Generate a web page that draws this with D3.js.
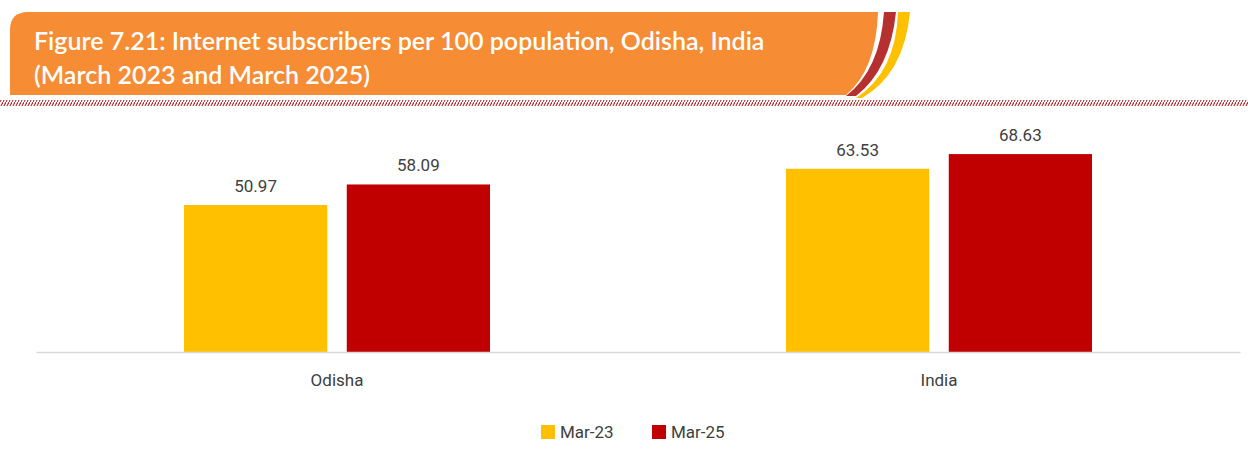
<!DOCTYPE html>
<html><head><meta charset="utf-8">
<script src="https://cdn.jsdelivr.net/npm/d3@7"></script>
<style>body{margin:0;background:#fff;font-family:Roboto,"Noto Sans",sans-serif}</style>
</head><body>
<svg id="chart" width="1248" height="454"></svg>
<script>
var categories = ["Odisha", "India"];
var seriesNames = ["Mar-23", "Mar-25"];
var mar23 = [50.97, 63.53];
var mar25 = [58.09, 68.63];
var colors = ["#FFC000", "#C00000"];

var svg = d3.select("#chart");

// header banner
var defs = svg.append("defs");
var pat = defs.append("pattern").attr("id", "hatch").attr("patternUnits", "userSpaceOnUse")
    .attr("width", 3).attr("height", 6);
pat.append("line").attr("x1", 0).attr("y1", 6).attr("x2", 3).attr("y2", 0)
    .attr("stroke", "#b5302f").attr("stroke-width", 1.2);
svg.append("rect").attr("x", 0).attr("y", 100).attr("width", 1248).attr("height", 6).attr("fill", "url(#hatch)");

svg.append("path").attr("d", "M884,12 L896,12 Q890,70 856,96 L846,96 Q880,70 884,12 Z").attr("fill", "#b5302f");
svg.append("path").attr("d", "M898,12 L910,12 Q904,74 862,98 L856,98 Q896,72 898,12 Z").attr("fill", "#FFC000");
svg.append("path").attr("d", "M28,12 L878,12 Q876,70 846,95 L10,95 L10,30 Q10,12 28,12 Z").attr("fill", "#F68C34");
svg.append("text").attr("x", 34).attr("y", 50).attr("fill", "#fff").attr("font-size", 25).attr("font-weight", 600)
    .attr("font-family", "Lato, sans-serif")
    .text("Figure 7.21: Internet subscribers per 100 population, Odisha, India");
svg.append("text").attr("x", 34).attr("y", 84).attr("fill", "#fff").attr("font-size", 25).attr("font-weight", 600)
    .attr("font-family", "Lato, sans-serif")
    .text("(March 2023 and March 2025)");

// chart
var x0 = d3.scaleBand().domain(categories).range([36, 1240]);
var x1 = d3.scaleBand().domain(seriesNames).range([0, 306]).paddingInner(0.12);
var y = d3.scaleLinear().domain([0, 100]).range([352, 63.6]);

var rows = categories.map(function(c, i) { return {cat: c, vals: [mar23[i], mar25[i]]}; });
var g = svg.selectAll(".grp").data(rows).enter().append("g")
    .attr("transform", function(d) { return "translate(" + (x0(d.cat) + x0.bandwidth() / 2 - 153) + ",0)"; });
g.selectAll("rect").data(function(d) { return d.vals; }).enter().append("rect")
    .attr("x", function(d, i) { return x1(seriesNames[i]); })
    .attr("width", x1.bandwidth())
    .attr("y", function(d) { return y(d); })
    .attr("height", function(d) { return y(0) - y(d); })
    .attr("fill", function(d, i) { return colors[i]; });
g.selectAll(".lbl").data(function(d) { return d.vals; }).enter().append("text")
    .attr("x", function(d, i) { return x1(seriesNames[i]) + x1.bandwidth() / 2; })
    .attr("y", function(d) { return y(d) - 13; })
    .attr("text-anchor", "middle").attr("font-size", 17).attr("fill", "#404040")
    .text(function(d) { return d.toFixed(2); });

var ax = svg.append("g").attr("transform", "translate(0,352)")
    .call(d3.axisBottom(x0).tickSize(0).tickPadding(22));
ax.select(".domain").attr("stroke", "#d9d9d9").attr("stroke-width", 1.5);
ax.selectAll("text").attr("font-size", 17).attr("fill", "#404040").attr("font-family", "Roboto, sans-serif");

// legend
var leg = svg.selectAll(".leg").data(seriesNames).enter().append("g")
    .attr("transform", function(d, i) { return "translate(" + (541 + i * 111) + ",425)"; });
leg.append("rect").attr("width", 14).attr("height", 14).attr("fill", function(d, i) { return colors[i]; });
leg.append("text").attr("x", 19).attr("y", 13).attr("font-size", 17).attr("fill", "#404040").text(function(d) { return d; });
</script>
</body></html>
